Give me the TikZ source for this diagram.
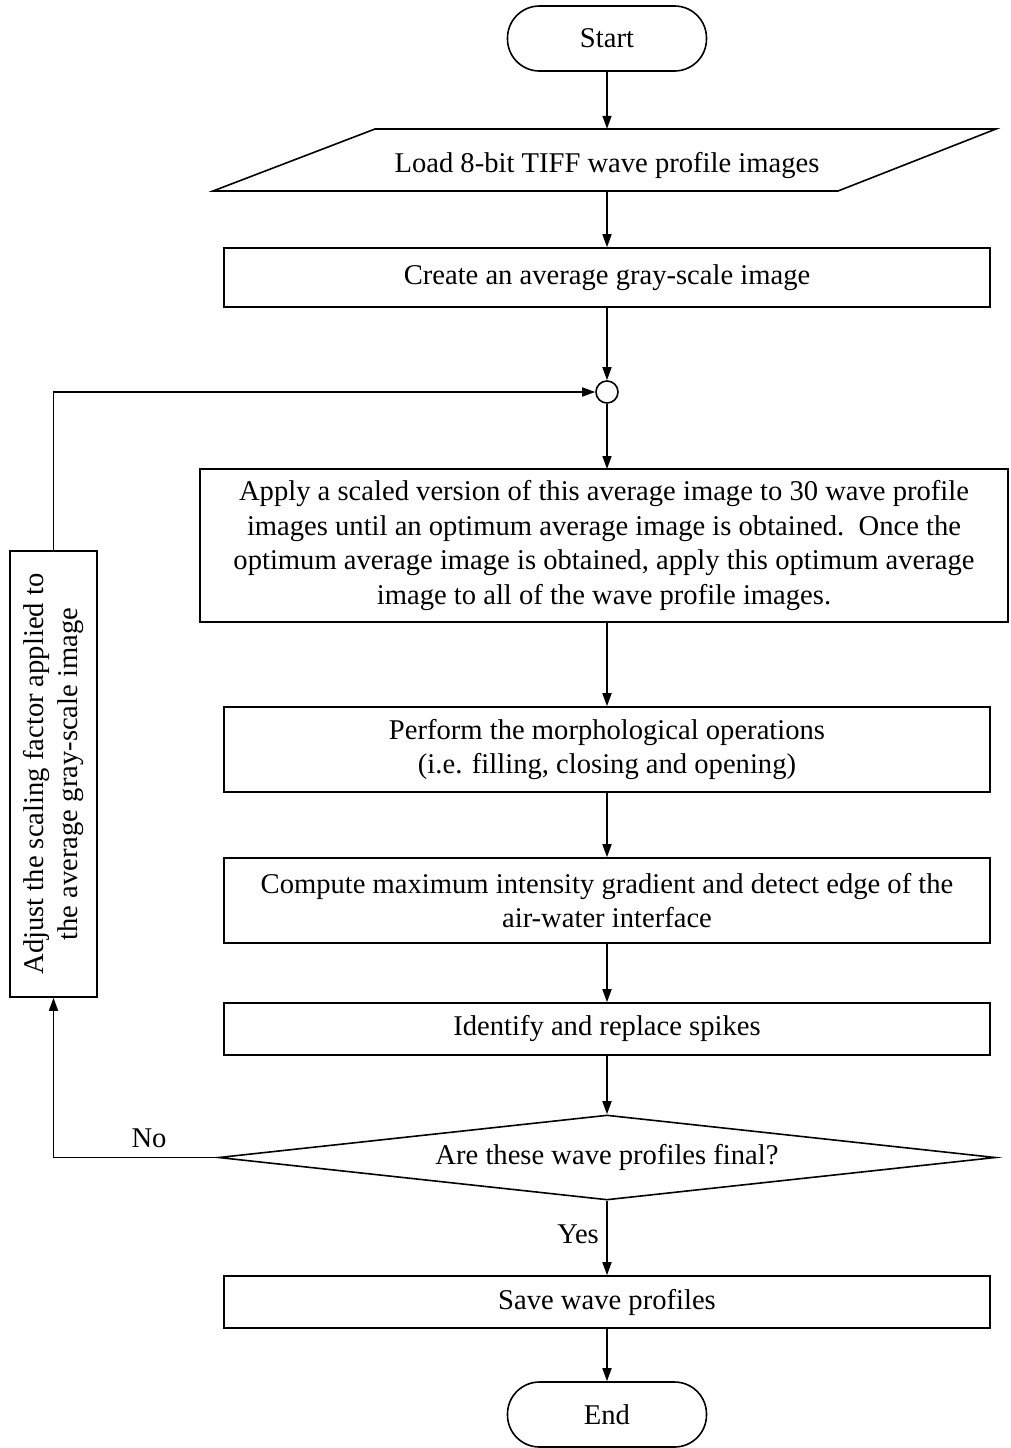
\documentclass[tikz,border=0pt]{standalone}
\usepackage{fontspec}
\setmainfont{Liberation Serif}
\usetikzlibrary{arrows.meta,shapes.geometric}
\begin{document}
\begin{tikzpicture}[x=1pt,y=-1pt,
  every node/.style={font=\fontsize{28.6}{34.5}\selectfont},
  base/.style={draw,line width=1.6pt,inner sep=0pt,align=center},
  procbox/.style={base,rectangle,minimum width=766pt},
  term/.style={base,rectangle,rounded corners=32pt,minimum width=199pt,minimum height=65pt},
  arr/.style={line width=1.6pt,-{Triangle[length=13pt,width=9pt]}},
  ln/.style={line width=1.6pt}]
\useasboundingbox (0,0) rectangle (1010,1448);
% terminals
\node[term] (start) at (607,38.5) {Start};
\node[term] (end) at (607,1414.5) {End};
% parallelogram input
\draw[ln,line join=miter] (375,129) -- (996,129) -- (838,191) -- (213,191) -- cycle;
\node[inner sep=0pt,minimum height=62pt,minimum width=400pt] (load) at (607,160) {};
\node[inner sep=0pt] (loadtxt) at (607,166) {Load 8-bit TIFF wave profile images};
% boxes
\node[procbox,minimum height=59pt] (create) at (607,277.5) {Create an average gray-scale image};
\node[base,circle,minimum size=22pt] (junc) at (607,392) {};
\node[base,rectangle,minimum width=808pt,minimum height=153pt] (apply) at (604,545.5)
  {Apply a scaled version of this average image to 30 wave profile\\
   images until an optimum average image is obtained.\ \ Once the\\
   optimum average image is obtained, apply this optimum average\\
   image to all of the wave profile images.};
\node[procbox,minimum height=85pt] (morph) at (607,749.5)
  {Perform the morphological operations\\(i.e. filling, closing and opening)};
\node[procbox,minimum height=85pt] (comp) at (607,900.5)
  {Compute maximum intensity gradient and detect edge of the\\air-water interface};
\node[procbox,minimum height=52pt] (ident) at (607,1029) {Identify and replace spikes};
\node[base,diamond,aspect=8,minimum width=777pt,minimum height=85pt] (dec) at (607,1157.5)
  {Are these wave profiles final?};
\node[procbox,minimum height=52pt] (save) at (607,1302) {Save wave profiles};
\node[base,rectangle,minimum width=87pt,minimum height=446pt] (adj) at (53.5,774) {};
\node[rotate=90,align=center,inner sep=0pt] (adjtxt) at (adj.center)
  {Adjust the scaling factor applied to\\the average gray-scale image};
% connectors
\draw[arr] (start) -- (load.north);
\draw[arr] (load.south) -- (create);
\draw[arr] (create) -- (junc);
\draw[arr] (junc) -- (607,469);
\draw[arr] (607,622) -- (morph);
\draw[arr] (morph) -- (comp);
\draw[arr] (comp) -- (ident);
\draw[arr] (ident) -- (dec.north);
\draw[arr] (dec.south) -- node[left=4pt,pos=0.45] {Yes} (save);
\draw[arr] (save) -- (end);
\draw[arr] (dec.west) -- (adj.south |- dec.west) -- (adj.south);
\node at (149,1138) {No};
\draw[arr] (adj.north) |- (junc.west);
\end{tikzpicture}
\end{document}
